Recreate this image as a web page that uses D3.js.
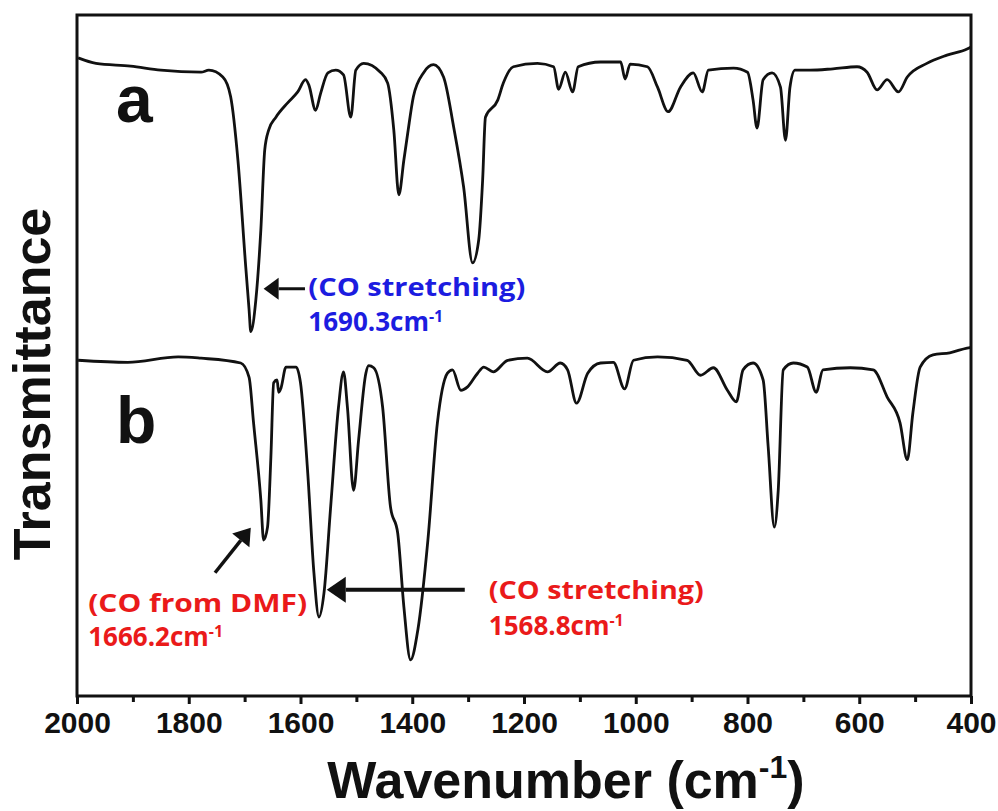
<!DOCTYPE html>
<html>
<head>
<meta charset="utf-8">
<script src="https://cdn.jsdelivr.net/npm/d3@7"></script>
<style>
  body { margin: 0; background: #fff; }
  svg { display: block; }
  .tick text { font-family: "Liberation Sans", Arial, sans-serif; font-weight: bold; font-size: 30px; fill: #111; }
  .note { font-family: "Open Sans", "Noto Sans CJK KR", sans-serif; font-weight: bold; }
</style>
</head>
<body>
<div id="chart"></div>
<script>
// wavenumber (cm-1) and transmittance (a.u.)
const wnA = [1998, 1966, 1904, 1850, 1778, 1764, 1739, 1725, 1712, 1698, 1692, 1689, 1680, 1671, 1664, 1657,
  1644, 1623, 1605, 1591, 1585, 1573, 1564, 1551, 1537, 1523, 1510, 1501, 1487, 1457, 1444, 1433, 1424, 1415,
  1408, 1398, 1380, 1362, 1344, 1326, 1308, 1292, 1281, 1274, 1269, 1247, 1237, 1219, 1176, 1147, 1138, 1126,
  1113, 1103, 1063, 1027, 1019, 1010, 979, 961, 942, 920, 897, 881, 870, 825, 800, 790, 783, 772, 756, 741,
  732, 724, 715, 688, 647, 604, 586, 568, 550, 530, 514, 479, 443, 407, 400];
const tA = [93.7, 92.9, 92.5, 91.9, 91.6, 91.9, 90.9, 88.0, 78.7, 63.0, 56.7, 53.5, 58.1, 68.4, 80.2, 83.1,
  85.0, 87.1, 88.7, 90.5, 89.7, 86.0, 88.5, 91.5, 91.9, 91.2, 85.0, 91.9, 92.9, 91.6, 90.0, 83.1, 73.6, 78.7,
  82.7, 88.0, 91.5, 92.7, 90.9, 83.6, 74.7, 63.6, 67.0, 75.8, 85.0, 87.5, 90.0, 92.4, 92.9, 92.4, 89.1, 91.6,
  88.7, 92.4, 93.1, 93.1, 90.6, 92.8, 92.4, 89.4, 85.8, 89.4, 91.5, 88.7, 91.9, 92.2, 91.6, 87.5, 83.4, 90.5,
  91.5, 89.4, 81.6, 89.4, 91.9, 91.9, 92.1, 92.4, 91.6, 89.0, 90.5, 88.7, 90.9, 92.9, 94.1, 95.0, 95.3];

const wnB = [1998, 1909, 1819, 1778, 1707, 1692, 1684, 1671, 1666, 1659, 1653, 1648, 1642, 1639, 1635, 1626,
  1608, 1600, 1587, 1576, 1567, 1558, 1546, 1532, 1523, 1516, 1505, 1496, 1483, 1478, 1469, 1453, 1439, 1426,
  1415, 1403, 1390, 1372, 1355, 1337, 1328, 1313, 1301, 1283, 1272, 1255, 1229, 1194, 1158, 1135, 1122, 1106,
  1086, 1063, 1040, 1020, 1004, 961, 908, 884, 861, 836, 820, 808, 790, 772, 763, 752, 745, 736, 718, 693, 677,
  665, 616, 575, 550, 527, 514, 504, 491, 468, 438, 407, 400];
const tB = [49.3, 49.0, 49.8, 49.6, 48.9, 46.8, 40.1, 28.8, 22.9, 24.8, 35.1, 46.0, 46.4, 44.6, 45.2, 48.3,
  48.3, 46.0, 32.7, 18.1, 11.6, 15.1, 27.8, 42.4, 47.6, 42.4, 30.2, 37.6, 47.4, 48.5, 48.2, 42.4, 27.8, 23.9,
  13.1, 5.3, 9.7, 22.9, 40.1, 47.4, 47.9, 44.9, 45.4, 47.4, 48.3, 47.6, 49.3, 49.6, 47.6, 48.9, 47.9, 43.0,
  47.4, 48.9, 49.0, 45.1, 49.3, 49.8, 49.3, 47.1, 48.2, 44.9, 43.2, 47.9, 48.9, 46.4, 36.6, 24.8, 30.2, 47.9,
  48.9, 48.3, 44.6, 47.9, 48.2, 47.9, 43.9, 40.1, 34.7, 41.6, 48.3, 50.1, 50.4, 51.1, 51.2];

const majorTicks = [2000, 1800, 1600, 1400, 1200, 1000, 800, 600, 400];
const minorTicks = [1900, 1700, 1500, 1300, 1100, 900, 700, 500];

const width = 998, height = 811;
const margin = { left: 77, right: 27, top: 15, bottom: 115 };

const svg = d3.select("#chart").append("svg")
  .attr("width", width)
  .attr("height", height);

const x = d3.scaleLinear().domain([2000, 400]).range([margin.left, width - margin.right]);
const y = d3.scaleLinear().domain([0, 100]).range([height - margin.bottom, margin.top]);

const line = d3.line()
  .x(d => x(d[0]))
  .y(d => y(d[1]))
  .curve(d3.curveMonotoneX);

const seriesA = wnA.map((w, i) => [w, tA[i]]);
const seriesB = wnB.map((w, i) => [w, tB[i]]);

[seriesA, seriesB].forEach(s => {
  svg.append("path")
    .datum(s)
    .attr("fill", "none")
    .attr("stroke", "#111")
    .attr("stroke-width", 2.8)
    .attr("stroke-linejoin", "round")
    .attr("d", line);
});

// frame
svg.append("rect")
  .attr("x", x(2000)).attr("y", y(100))
  .attr("width", x(400) - x(2000)).attr("height", y(0) - y(100))
  .attr("fill", "none").attr("stroke", "#111").attr("stroke-width", 3);

// ticks
const axisMajor = d3.axisBottom(x).tickValues(majorTicks).tickSize(8).tickPadding(8).tickFormat(d3.format("d"));
const gx = svg.append("g").attr("transform", `translate(0,${y(0)})`).call(axisMajor);
gx.select(".domain").remove();
gx.selectAll(".tick line").attr("stroke", "#111").attr("stroke-width", 3);

const gMinor = svg.append("g").attr("transform", `translate(0,${y(0)})`)
  .call(d3.axisBottom(x).tickValues(minorTicks).tickSize(6).tickFormat(""));
gMinor.select(".domain").remove();
gMinor.selectAll(".tick line").attr("stroke", "#111").attr("stroke-width", 3);

// axis titles
const xTitle = svg.append("text")
  .attr("x", 566).attr("y", 798)
  .attr("text-anchor", "middle")
  .style("font-family", "'Liberation Sans', Arial, sans-serif")
  .style("font-weight", "bold").style("font-size", "52px").attr("fill", "#111");
xTitle.append("tspan").text("Wavenumber (cm");
xTitle.append("tspan").attr("dy", -20).style("font-size", "32px").text("-1");
xTitle.append("tspan").attr("dy", 20).text(")");

svg.append("text")
  .attr("transform", "translate(50,384) rotate(-90)")
  .attr("text-anchor", "middle")
  .style("font-family", "'Liberation Sans', Arial, sans-serif")
  .style("font-weight", "bold").style("font-size", "52px").attr("fill", "#111")
  .text("Transmittance");

// panel letters
const letters = [["a", 1930, 84.3], ["b", 1930, 37.2]];
letters.forEach(([t, w, v]) => {
  svg.append("text")
    .attr("x", x(w)).attr("y", y(v))
    .style("font-family", "'Liberation Sans', Arial, sans-serif")
    .style("font-weight", "bold").style("font-size", "66px").attr("fill", "#111")
    .text(t);
});

// annotations: [line1, line2, wn, baseline1, baseline2, colour, width1]
const notes = [
  ["(CO stretching)", "1690.3cm", 1586, 58.7, 53.6, "#1c1ce0", 217],
  ["(CO from DMF)", "1666.2cm", 1980, 12.4, 7.4, "#ea1a1a", 219],
  ["(CO stretching)", "1568.8cm", 1263, 14.2, 9.0, "#ea1a1a", 215]
];
notes.forEach(([l1, l2, w, v1, v2, col, len]) => {
  svg.append("text").attr("class", "note")
    .attr("x", x(w)).attr("y", y(v1))
    .attr("textLength", len).attr("lengthAdjust", "spacingAndGlyphs")
    .style("font-size", "25px").attr("fill", col).text(l1);
  const t2 = svg.append("text").attr("class", "note")
    .attr("x", x(w)).attr("y", y(v2))
    .style("font-size", "26px").attr("fill", col);
  t2.append("tspan").text(l2);
  t2.append("tspan").attr("dy", -9).style("font-size", "16px").text("-1");
});

// arrows: [tail wn, tail T, tip wn, tip T, line width, head length, head half-width]
const arrows = [
  [1592, 59.8, 1666, 59.8, 3, 15, 11],
  [1753, 18.1, 1689, 24.7, 3.5, 16, 11],
  [1306, 15.6, 1553, 15.6, 4, 19, 13]
];
arrows.forEach(([w0, v0, w1, v1, sw, hl, hw]) => {
  const x0 = x(w0), y0 = y(v0), x1 = x(w1), y1 = y(v1);
  const ang = Math.atan2(y1 - y0, x1 - x0);
  const bx = x1 - hl * Math.cos(ang), by = y1 - hl * Math.sin(ang);
  svg.append("line")
    .attr("x1", x0).attr("y1", y0).attr("x2", bx).attr("y2", by)
    .attr("stroke", "#111").attr("stroke-width", sw);
  const px = -Math.sin(ang) * hw, py = Math.cos(ang) * hw;
  svg.append("polygon")
    .attr("points", `${x1},${y1} ${bx + px},${by + py} ${bx - px},${by - py}`)
    .attr("fill", "#111");
});
</script>
</body>
</html>
